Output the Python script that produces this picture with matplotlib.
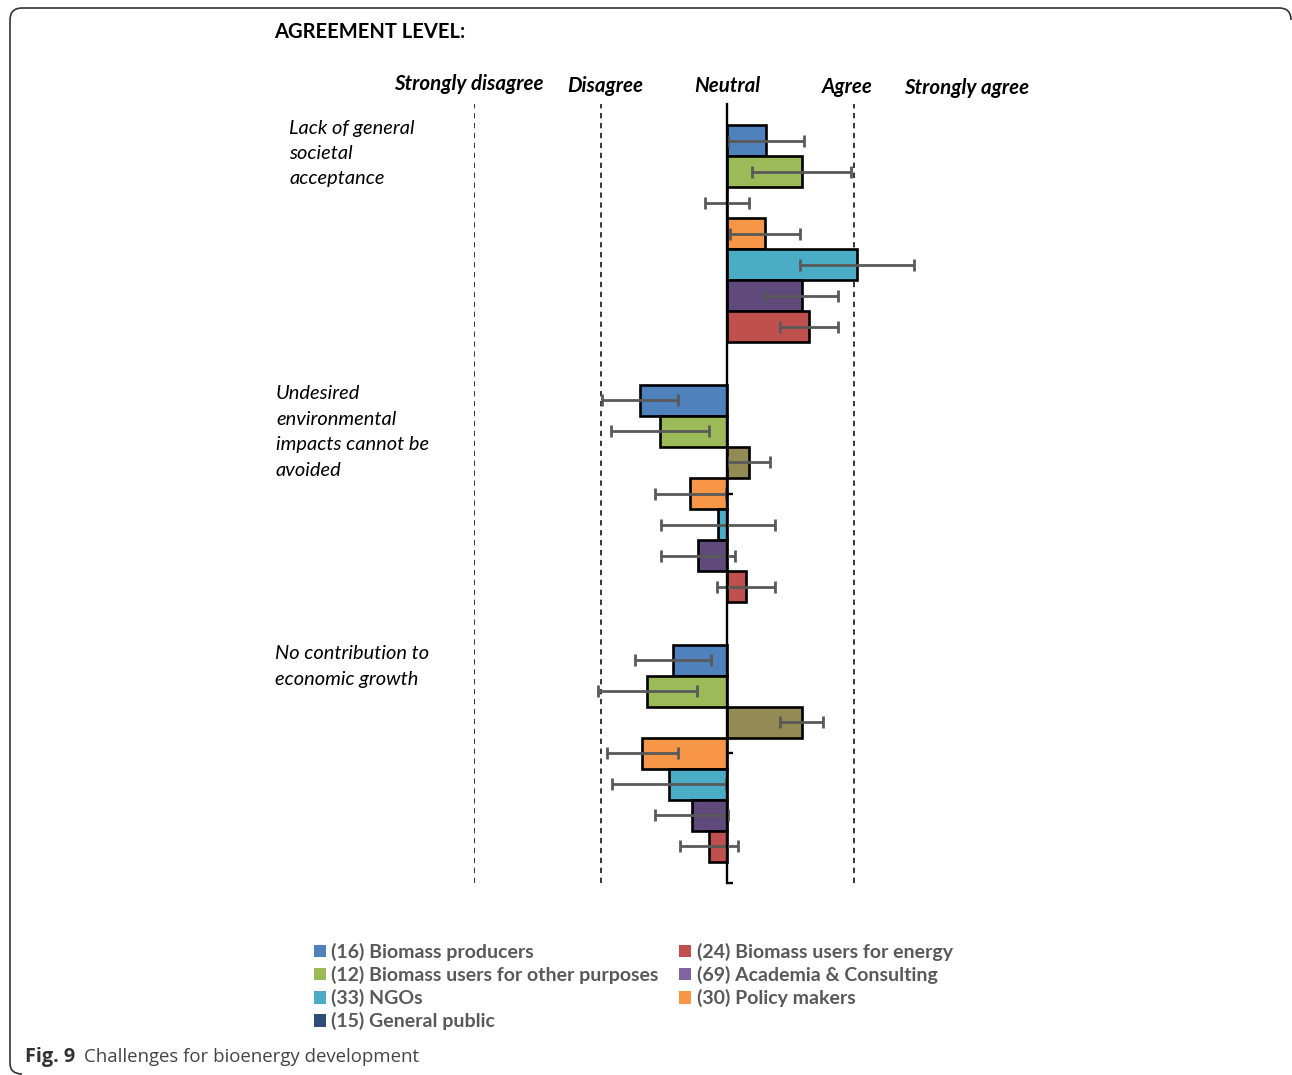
import numpy as np
import matplotlib
matplotlib.use("Agg")
import matplotlib.pyplot as plt
from matplotlib.patches import Patch, PathPatch
from matplotlib.path import Path
from matplotlib.transforms import IdentityTransform

# DATA -----------------------------------------------------------------------
challenges = ["Lack of general\nsocietal\nacceptance",
              "Undesired\nenvironmental\nimpacts cannot be\navoided",
              "No contribution to\neconomic growth"]
groups = ["(16) Biomass producers", "(12) Biomass users for other purposes",
          "(15) General public", "(30) Policy makers", "(33) NGOs",
          "(69) Academia & Consulting", "(24) Biomass users for energy"]
# mean agreement (-2 strongly disagree .. +2 strongly agree), one list per challenge
lack_acceptance = [0.31, 0.59, 0.00, 0.30, 1.03, 0.59, 0.65]
env_impacts = [-0.69, -0.53, 0.17, -0.29, -0.07, -0.23, 0.15]
no_growth = [-0.43, -0.63, 0.59, -0.67, -0.46, -0.28, -0.14]
spread = [0.30, 0.39, 0.17, 0.28, 0.45, 0.29, 0.23]
levels = ["Strongly disagree", "Disagree", "Neutral", "Agree", "Strongly agree"]

bar_colors = ["#4F81BD", "#9BBB59", "#948A54", "#F79646", "#4BACC6", "#604A7B", "#C0504D"]
legend_colors = {"(16) Biomass producers": "#4F81BD",
                 "(12) Biomass users for other purposes": "#9BBB59",
                 "(33) NGOs": "#4BACC6",
                 "(15) General public": "#2C4D75",
                 "(24) Biomass users for energy": "#C0504D",
                 "(69) Academia & Consulting": "#8064A2",
                 "(30) Policy makers": "#F79646"}
legend_order = ["(16) Biomass producers", "(12) Biomass users for other purposes",
                "(33) NGOs", "(15) General public", "(24) Biomass users for energy",
                "(69) Academia & Consulting", "(30) Policy makers"]

W, H = 1292, 1075
FONT = "Lato"

fig = plt.figure(figsize=(W / 100, H / 100), dpi=100)


def fx(px):
    return px / W


def fy(py):
    return 1 - py / H


# plot area: -2 at x=474, +2 at x=980; top 104, bottom 883
ax = fig.add_axes([fx(474), fy(883), fx(980) - fx(474), (883 - 104) / H])
ax.set_xlim(-2, 2)
ax.set_ylim(3, 0)

fill = 0.836
bh = fill / len(groups)
data = [lack_acceptance, env_impacts, no_growth]
for i, vals in enumerate(data):
    for j, v in enumerate(vals):
        yc = i + (1 - fill) / 2 + (j + 0.5) * bh
        ax.barh(yc, v, height=bh, left=0, color=bar_colors[j], edgecolor="black",
                linewidth=1.9, zorder=3)
        ax.errorbar(v, yc, xerr=spread[j], fmt="none", ecolor="#595959",
                    elinewidth=2.0, capsize=4.3, capthick=2.0, zorder=4)

for xv in [-2, -1, 1]:
    ax.axvline(xv, color="black", lw=1.1, ls=(0, (3.5, 3)), zorder=1)

for s in ["top", "right", "bottom"]:
    ax.spines[s].set_visible(False)
ax.spines["left"].set_position(("data", 0))
ax.spines["left"].set_linewidth(1.7)
ax.spines["left"].set_zorder(5)
ax.set_xticks([])
ax.set_yticks([0.5, 1.5, 2.5, 3])
ax.set_yticklabels([])
ax.tick_params(axis="y", direction="in", length=4, width=1.7)
ax.patch.set_visible(False)

# headings
fig.text(fx(274), fy(32), "AGREEMENT LEVEL:", family=FONT, weight="bold",
         fontsize=14.5, va="center", ha="left")
level_px = [469, 605, 727, 847, 967]
level_py = [84, 86, 86, 87, 88]
for lab, px, py in zip(levels, level_px, level_py):
    fig.text(fx(px), fy(py), lab, family=FONT, weight="bold", style="italic",
             fontsize=14.8, va="center", ha="center")

label_pos = [(289, 153.5), (276, 432), (275, 666.5)]
for lab, (px, py) in zip(challenges, label_pos):
    fig.text(fx(px), fy(py), lab, family=FONT, style="italic", fontsize=14.4,
             va="center", ha="left", linespacing=1.6)

# legend
handles = [Patch(facecolor=legend_colors[g], edgecolor="none") for g in legend_order]
leg = fig.legend(handles, legend_order, loc="upper left", ncol=2, frameon=False,
                 bbox_to_anchor=(fx(306), fy(935)),
                 prop={"family": FONT, "weight": "bold", "size": 14},
                 handlelength=0.62, handleheight=0.62, handletextpad=0.28,
                 columnspacing=1.05, labelspacing=0.26, borderaxespad=0)
for t in leg.get_texts():
    t.set_color("#595959")

# caption
fig.text(fx(25), fy(1057), "Fig. 9", family="Open Sans", weight="bold", fontsize=14.3,
         color="#333333", va="center", ha="left")
fig.text(fx(84), fy(1057), "Challenges for bioenergy development", family="Open Sans",
         fontsize=13.4, color="#444444", va="center", ha="left")

# frame: only the left and top sides with rounded corners (pixel coords, y up)
r = 12
verts = [(10, H - 1063), (10, H - 1075 + 1), (10 + r, H - 1075 + 1),
         (10, H - 1063), (10, H - 8 - r), (10, H - 8), (10 + r, H - 8),
         (1291 - r, H - 8), (1291, H - 8), (1291, H - 8 - r)]
codes = [Path.MOVETO, Path.CURVE3, Path.CURVE3,
         Path.MOVETO, Path.LINETO, Path.CURVE3, Path.CURVE3,
         Path.LINETO, Path.CURVE3, Path.CURVE3]
frame = PathPatch(Path(verts, codes), transform=IdentityTransform(), fill=False,
                  edgecolor="#333333", linewidth=1.2)
fig.add_artist(frame)

fig.savefig("out.png", dpi=100)
